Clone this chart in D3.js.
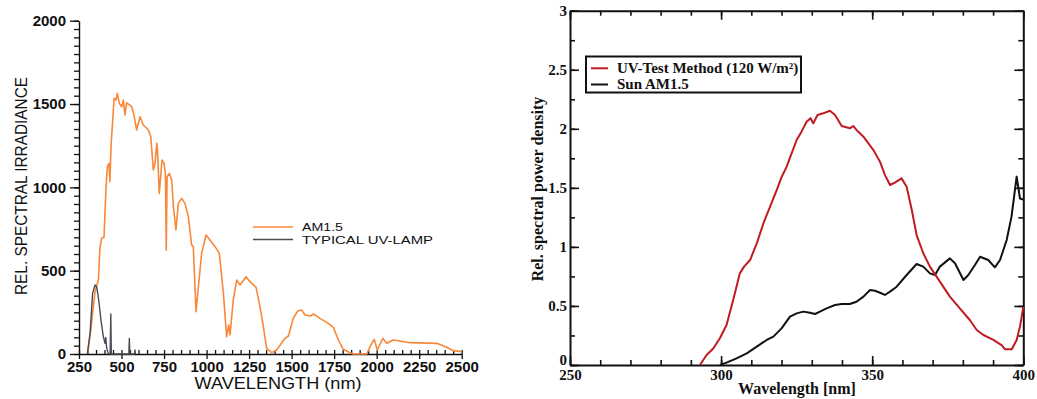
<!DOCTYPE html>
<html>
<head>
<meta charset="utf-8">
<script src="https://cdn.jsdelivr.net/npm/d3@7"></script>
<style>
  body { margin: 0; background: #fff; }
  svg { display: block; }
</style>
</head>
<body>
<div id="chart-area"></div>
<script>
// Left panel: AM1.5 solar spectrum vs. typical UV lamp (wavelength nm, rel. irradiance)
const am15 = [
  [300, 0], [320, 150], [345, 380], [364, 444], [373, 634], [383, 694], [397, 700],
  [409, 1004], [417, 1124], [426, 1144], [432, 1034], [438, 1244], [452, 1464],
  [456, 1534], [468, 1524], [475, 1564], [487, 1504], [501, 1484], [511, 1524],
  [520, 1434], [530, 1508], [540, 1500], [560, 1484], [573, 1434], [589, 1344],
  [609, 1424], [628, 1374], [658, 1344], [672, 1304], [687, 1104], [697, 1144],
  [707, 1264], [711, 1234], [722, 964], [738, 1164], [750, 1144], [758, 1084],
  [763, 624], [768, 1064], [781, 1084], [795, 1044], [805, 884], [820, 744],
  [834, 904], [854, 934], [873, 904], [893, 824], [912, 654], [922, 644],
  [938, 254], [952, 404], [971, 604], [997, 714], [1020, 684], [1050, 644],
  [1075, 604], [1099, 364], [1118, 104], [1130, 174], [1138, 114], [1157, 324],
  [1177, 444], [1197, 414], [1232, 464], [1255, 434], [1291, 400], [1314, 284],
  [1334, 164], [1353, 34], [1383, 8], [1412, 24], [1461, 94], [1481, 108],
  [1510, 214], [1536, 258], [1559, 264], [1579, 234], [1612, 228], [1628, 240],
  [1667, 214], [1716, 184], [1745, 160], [1775, 84], [1804, 28], [1843, 8],
  [1863, 0], [1941, 0], [1961, 44], [1985, 88], [2004, 24], [2036, 94],
  [2059, 64], [2098, 84], [2196, 68], [2353, 64], [2412, 40], [2451, 20],
  [2500, 14]
];
const uvLamp = [
  [299, 0], [315, 124], [330, 364], [344, 414], [354, 404], [366, 324], [379, 204],
  [393, 104], [403, 64], [407, 100], [413, 34], [422, 4], [433, 0], [437, 240],
  [440, 0], [543, 0], [546, 94], [549, 0], [576, 0], [579, 24], [582, 0]
];
const leftXTicks = [250, 500, 750, 1000, 1250, 1500, 1750, 2000, 2250, 2500];
const leftYTicks = [0, 500, 1000, 1500, 2000];

// Right panel: UV test method vs. sun AM1.5 (300-400 nm, rel. spectral power density)
const uvTest = [
  [293, 0], [295.2, 0.085], [297.4, 0.14], [299.6, 0.226], [301.8, 0.339],
  [304, 0.55], [306.2, 0.776], [307.6, 0.833], [309.6, 0.889], [311.8, 1.03],
  [314, 1.2], [316.2, 1.34], [318.4, 1.48], [320, 1.59], [321.7, 1.68],
  [323.3, 1.79], [325, 1.905], [326.6, 1.976], [328.3, 2.06], [329.6, 2.09],
  [330.5, 2.046], [331.9, 2.117], [333.8, 2.131], [336, 2.153], [337.7, 2.117],
  [339.9, 2.024], [342.6, 2.004], [343.7, 2.024], [344.8, 1.99], [347.1, 1.933],
  [350.4, 1.82], [352.6, 1.72], [354.2, 1.61], [355.9, 1.524], [357.5, 1.544],
  [359.7, 1.58], [361.4, 1.51], [363.1, 1.312], [364.7, 1.1], [366.9, 0.946],
  [369.1, 0.833], [372.4, 0.706], [375.7, 0.579], [379, 0.48], [382.3, 0.381],
  [384.6, 0.296], [386.8, 0.254], [390.1, 0.212], [392.8, 0.169], [394, 0.133],
  [396.2, 0.133], [397.8, 0.212], [398.9, 0.325], [400, 0.49]
];
const sunAM15 = [
  [299.6, 0], [301.8, 0.02], [305.1, 0.056], [308.5, 0.099], [311.8, 0.155],
  [315.1, 0.212], [317.3, 0.24], [320, 0.31], [322.8, 0.409], [325, 0.437],
  [327.2, 0.452], [329.4, 0.443], [331.1, 0.432], [332.7, 0.452], [334.9, 0.48],
  [337.7, 0.508], [339.9, 0.516], [342.6, 0.516], [344.8, 0.536], [347.1, 0.579],
  [349.3, 0.635], [350.9, 0.629], [352.6, 0.612], [354.2, 0.593], [355.9, 0.621],
  [358.1, 0.663], [361.4, 0.762], [364.7, 0.855], [366.9, 0.833], [369.1, 0.776],
  [370.8, 0.762], [372.4, 0.833], [375.7, 0.903], [377.4, 0.861], [380.2, 0.72],
  [381.8, 0.762], [384, 0.847], [385.7, 0.917], [388.4, 0.889], [390.6, 0.827],
  [392.3, 0.889], [394.5, 1.058], [396.1, 1.256], [397.8, 1.595], [398.9, 1.41],
  [400, 1.4]
];
const rightXTicks = [250, 300, 350, 400];
const rightYTicks = [0, 0.5, 1, 1.5, 2, 2.5, 3];

const svg = d3
  .select("#chart-area")
  .append("svg")
  .attr("width", 1037)
  .attr("height", 399);

// ---------- left panel ----------
const lx = d3.scaleLinear().domain([250, 2500]).range([79, 461.7]);
const ly = d3.scaleLinear().domain([0, 2000]).range([354, 20.7]);
const sans = "'Liberation Sans', Arial, sans-serif";
const left = svg.append("g").attr("font-family", sans);

// minor ticks every 50
left
  .append("g")
  .attr("transform", "translate(0,354)")
  .call(d3.axisBottom(lx).tickValues(d3.range(250, 2501, 50)).tickSize(-4).tickSizeOuter(0).tickFormat(""))
  .call(g => g.select(".domain").remove());
left
  .append("g")
  .attr("transform", "translate(79,0)")
  .call(d3.axisLeft(ly).tickValues(d3.range(0, 2001, 50)).tickSize(5).tickSizeOuter(0).tickFormat(""))
  .call(g => g.select(".domain").remove());

const lxAxis = left
  .append("g")
  .attr("transform", "translate(0,354)")
  .call(d3.axisBottom(lx).tickValues(leftXTicks).tickSize(5).tickSizeOuter(0).tickPadding(2).tickFormat(d3.format("d")));
const lyAxis = left
  .append("g")
  .attr("transform", "translate(79,0)")
  .call(d3.axisLeft(ly).tickValues(leftYTicks).tickSize(9).tickSizeOuter(0).tickPadding(4).tickFormat(d3.format("d")));

[lxAxis, lyAxis].forEach(a => {
  a.attr("font-family", sans).attr("font-size", 15).attr("font-weight", "bold");
  a.selectAll("path, line").attr("stroke", "#111").attr("stroke-width", 1.4);
  a.selectAll("text")
    .style("font-family", sans)
    .style("font-size", "15px")
    .style("font-weight", "bold")
    .attr("fill", "#111");
});
left.selectAll("line").attr("stroke", "#111").attr("stroke-width", 1.3);

const lLine = d3.line().x(d => lx(d[0])).y(d => ly(d[1]));
left
  .append("path")
  .datum(am15)
  .attr("fill", "none")
  .attr("stroke", "#f8883a")
  .attr("stroke-width", 1.6)
  .attr("stroke-linejoin", "round")
  .attr("d", lLine);
left
  .append("path")
  .datum(uvLamp)
  .attr("fill", "none")
  .attr("stroke", "#4b4b55")
  .attr("stroke-width", 1.4)
  .attr("stroke-linejoin", "round")
  .attr("d", lLine);

// Y Label
left
  .append("text")
  .attr("transform", "translate(27,186) rotate(-90)")
  .attr("text-anchor", "middle")
  .attr("font-size", "17px")
  .attr("fill", "#111")
  .attr("textLength", 218)
  .attr("lengthAdjust", "spacingAndGlyphs")
  .text("REL. SPECTRAL IRRADIANCE");

// X Label
left
  .append("text")
  .attr("x", 278)
  .attr("y", 388.5)
  .attr("text-anchor", "middle")
  .attr("font-size", "16px")
  .attr("fill", "#111")
  .attr("textLength", 167)
  .attr("lengthAdjust", "spacingAndGlyphs")
  .text("WAVELENGTH  (nm)");

// legend
const leftLegend = [
  { label: "AM1.5", color: "#f8883a", y: 227, len: 41 },
  { label: "TYPICAL  UV-LAMP", color: "#4b4b55", y: 239.5, len: 131 }
];
leftLegend.forEach(l => {
  left.append("line")
    .attr("x1", 253).attr("x2", 293)
    .attr("y1", l.y).attr("y2", l.y)
    .attr("stroke", l.color).attr("stroke-width", 1.4);
  left.append("text")
    .attr("x", 302).attr("y", l.y + 4)
    .attr("font-size", "11.5px")
    .attr("fill", "#111")
    .attr("textLength", l.len)
    .attr("lengthAdjust", "spacingAndGlyphs")
    .text(l.label);
});

// ---------- right panel ----------
const rx = d3.scaleLinear().domain([250, 400]).range([570, 1023.3]);
const ry = d3.scaleLinear().domain([0, 3]).range([365, 10.7]);
const serif = "'Liberation Serif', 'Times New Roman', serif";
const right = svg.append("g").attr("font-family", serif);

const minorX = d3.range(250, 401, 10);
const minorY = d3.range(0, 3.01, 0.25);
const frame = [
  { axis: d3.axisBottom, scale: rx, t: "translate(0,365)", major: rightXTicks, minor: minorX, labels: true },
  { axis: d3.axisTop, scale: rx, t: "translate(0,10.7)", major: rightXTicks, minor: minorX, labels: false },
  { axis: d3.axisLeft, scale: ry, t: "translate(570,0)", major: rightYTicks, minor: minorY, labels: true },
  { axis: d3.axisRight, scale: ry, t: "translate(1023.3,0)", major: rightYTicks, minor: minorY, labels: false }
];
frame.forEach(f => {
  right.append("g")
    .attr("transform", f.t)
    .call(f.axis(f.scale).tickValues(f.minor).tickSize(-5).tickSizeOuter(0).tickFormat(""))
    .call(g => g.select(".domain").remove());
  const a = right.append("g")
    .attr("transform", f.t)
    .call(f.axis(f.scale).tickValues(f.major).tickSize(-9).tickSizeOuter(0)
      .tickPadding(f.axis === d3.axisLeft ? 3 : 4)
      .tickFormat(f.labels ? d3.format("") : ""));
  a.selectAll("text")
    .style("font-family", serif)
    .style("font-size", "15px")
    .style("font-weight", "bold")
    .attr("fill", "#111");
  // the "0" label sits just above the x labels, as in the original
  if (f.axis === d3.axisLeft) {
    a.selectAll("text").filter(d => d === 0).attr("dy", "-0.05em");
  }
});
right.selectAll("line").attr("stroke", "#111").attr("stroke-width", 1.6);
right.selectAll(".domain").attr("stroke", "#111").attr("stroke-width", 2);

const rLine = d3.line().x(d => rx(d[0])).y(d => ry(d[1]));
right.append("path")
  .datum(sunAM15)
  .attr("fill", "none")
  .attr("stroke", "#111")
  .attr("stroke-width", 2)
  .attr("stroke-linejoin", "round")
  .attr("d", rLine);
right.append("path")
  .datum(uvTest)
  .attr("fill", "none")
  .attr("stroke", "#c11b22")
  .attr("stroke-width", 2)
  .attr("stroke-linejoin", "round")
  .attr("d", rLine);

right.append("text")
  .attr("x", 797)
  .attr("y", 394)
  .attr("text-anchor", "middle")
  .attr("font-size", "16px")
  .attr("font-weight", "bold")
  .attr("fill", "#111")
  .text("Wavelength [nm]");

right.append("text")
  .attr("transform", "translate(543,189) rotate(-90)")
  .attr("text-anchor", "middle")
  .attr("font-size", "16px")
  .attr("font-weight", "bold")
  .attr("fill", "#111")
  .text("Rel. spectral power density");

// legend
right.append("rect")
  .attr("x", 586).attr("y", 56.5)
  .attr("width", 215).attr("height", 36)
  .attr("fill", "#fff")
  .attr("stroke", "#111")
  .attr("stroke-width", 2);
const rightLegend = [
  { label: "UV-Test Method (120 W/m²)", color: "#c11b22", y: 68.3 },
  { label: "Sun AM1.5", color: "#111", y: 84.5 }
];
rightLegend.forEach(l => {
  right.append("line")
    .attr("x1", 591).attr("x2", 608)
    .attr("y1", l.y).attr("y2", l.y)
    .attr("stroke", l.color).attr("stroke-width", 2);
  right.append("text")
    .attr("x", 617).attr("y", l.y + 4.8)
    .attr("font-size", "15px")
    .attr("font-weight", "bold")
    .attr("fill", "#111")
    .text(l.label);
});
</script>
</body>
</html>
